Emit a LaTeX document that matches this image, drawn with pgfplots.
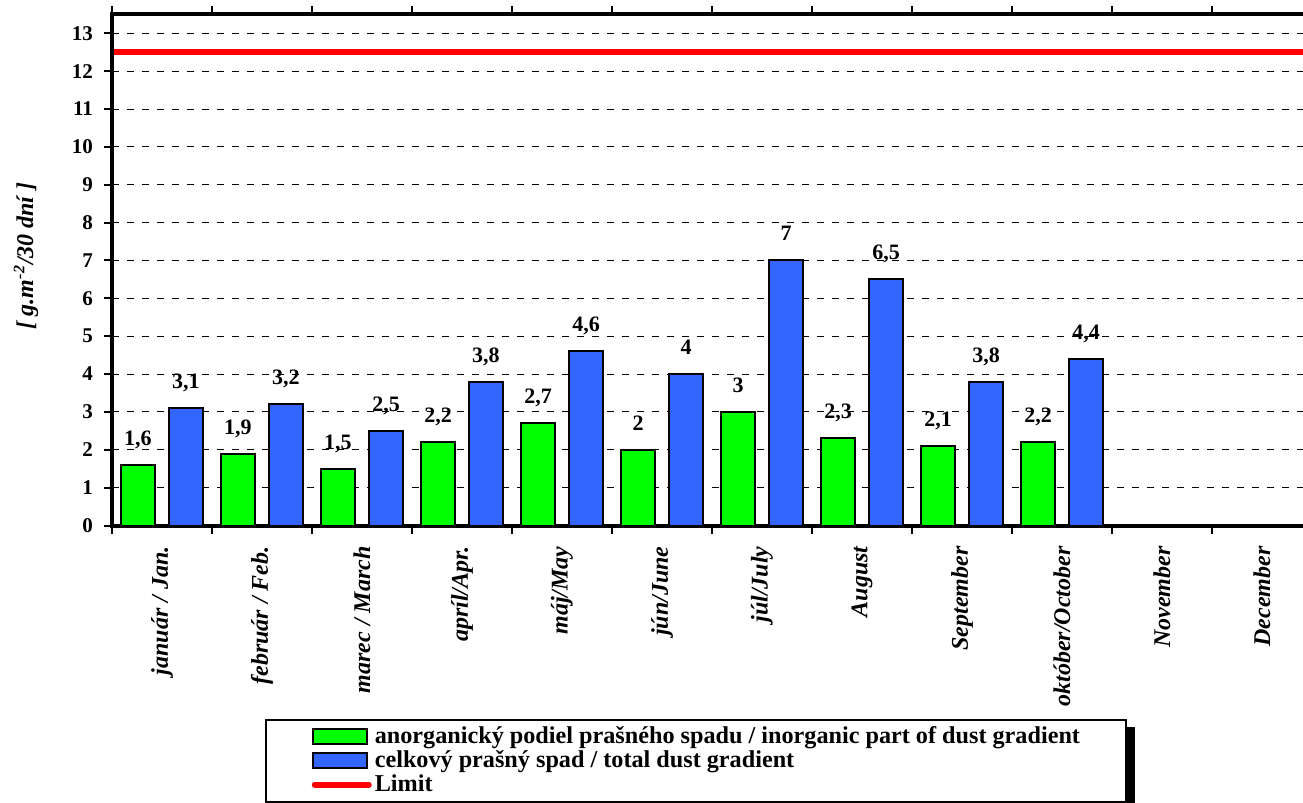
\documentclass[border=0pt]{standalone}
\usepackage{pgfplots}
\pgfplotsset{compat=1.18}
\usepackage{fontspec}
\setmainfont{Liberation Serif}
\definecolor{bargreen}{HTML}{00FF00}
\definecolor{barblue}{HTML}{3366FF}
\definecolor{limred}{HTML}{FF0000}
\pgfplotsset{
  barlegend/.style={legend image code/.code={\draw[##1, line width=1pt] (0pt,-3.75pt) rectangle (27pt,3.75pt);}},
  linelegend/.style={legend image code/.code={\draw[##1, line cap=round] (1pt,0pt) -- (28pt,0pt);}},
}
\begin{document}
\begin{tikzpicture}
\useasboundingbox (-56pt,-138.75pt) rectangle (595.5pt,262.75pt);
\clip (-56pt,-138.75pt) rectangle (595.5pt,262.75pt);
\begin{axis}[
  at={(0pt,0pt)}, anchor=south west,
  scale only axis, width=595.5pt, height=255.55pt,
  xmin=-0.5, xmax=11.41, ymin=0, ymax=13.5,
  axis x line=box, axis y line=left,
  axis line style={line width=2pt, -, line cap=rect},
  /pgf/number format/assume math mode=true,
  /pgf/number format/use comma,
  ytick={0,...,13},
  xtick={-0.5,0.5,...,10.5},
  xticklabels={},
  extra x ticks={0,...,11},
  extra x tick labels={január / Jan., február / Feb., marec / March, apríl/Apr., máj/May, jún/June, júl/July, August, September, október/October, November, December},
  extra x tick style={major tick length=0pt, grid=none,
    tick label style={yshift=-7pt, rotate=90, anchor=east, font=\fontsize{12}{12}\selectfont\bfseries\itshape}},
  tick align=outside,
  major tick length=4pt,
  tick style={black, line width=1pt},
  yticklabel style={font=\fontsize{10.5}{12}\selectfont\bfseries, xshift=-2pt},
  ymajorgrids,
  grid style={black, line width=0.5pt, dash pattern=on 3.5pt off 4pt},
  ylabel={[ g.m\textsuperscript{-2}/30 dní ]},
  ylabel style={at={(axis description cs:-0.0722,0.527)}, anchor=center, font=\fontsize{12}{12}\selectfont\bfseries\itshape},
  legend style={at={(axis description cs:0.1285,-0.3786)}, anchor=north west,
    name=lgd,
    draw=black, line width=0.75pt, fill=white,
    font=\fontsize{12.1}{12}\selectfont\bfseries,
    inner xsep=23pt, inner ysep=2.5pt, row sep=0pt,
    nodes={inner sep=0pt, text height=9.5pt, text depth=2.5pt},
    /tikz/every odd column/.append style={column sep=1.5pt}},
  legend cell align=left,
  every node near coord/.append style={font=\fontsize{11}{12}\selectfont\bfseries, black, inner sep=0pt, text depth=0pt, yshift=9.25pt},
]
\addplot[ybar, bar width=17pt, bar shift=-12pt, fill=bargreen, draw=black, line width=1pt,
  nodes near coords, nodes near coords style={xshift=-12pt}, barlegend]
  coordinates {(0,1.6) (1,1.9) (2,1.5) (3,2.2) (4,2.7) (5,2) (6,3) (7,2.3) (8,2.1) (9,2.2)};
\addplot[ybar, bar width=17pt, bar shift=12pt, fill=barblue, draw=black, line width=1pt,
  nodes near coords, nodes near coords style={xshift=12pt}, barlegend]
  coordinates {(0,3.1) (1,3.2) (2,2.5) (3,3.8) (4,4.6) (5,4) (6,7) (7,6.5) (8,3.8) (9,4.4)};
\addplot[limred, line width=3pt, sharp plot, mark=none, linelegend]
  coordinates {(-0.48,12.5) (11.5,12.5)};
\legend{anorganický podiel prašného spadu / inorganic part of dust gradient, celkový prašný spad / total dust gradient, Limit}
\end{axis}
\fill[black] ([yshift=-4pt]lgd.north east) rectangle ([xshift=4pt,yshift=-4pt]lgd.south east);
\end{tikzpicture}
\end{document}
